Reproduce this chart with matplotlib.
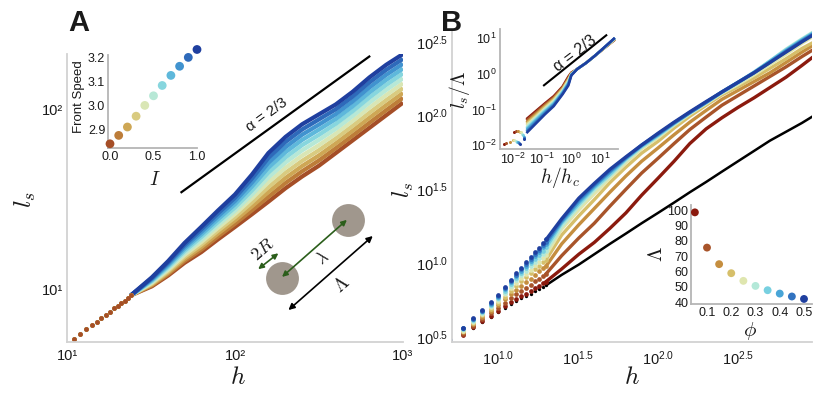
# Front roughening: l_s vs h for different I (A) and packing fraction phi (B)

import numpy as np
import matplotlib.pyplot as plt
from matplotlib.colors import LinearSegmentedColormap
from matplotlib.ticker import NullLocator

plt.rcParams['font.family'] = ['Liberation Sans', 'DejaVu Sans']
plt.rcParams['mathtext.fontset'] = 'cm'

# ---------------- Panel A ----------------
# inset: front speed vs I
I_vals = [0.0, 0.1, 0.2, 0.3, 0.4, 0.5, 0.6, 0.7, 0.8, 0.9, 1.0]
front_speed = [2.84, 2.875, 2.91, 2.955, 3.0, 3.04, 3.083, 3.125, 3.163, 3.2, 3.233]

# main: log10(l_s); at small h all curves sit on the same dots
h_a_dots = [11, 12, 13, 14, 15, 16, 17, 18, 19, 20, 21, 22, 23, 24]
log_ls_a_dots = [0.728, 0.756, 0.783, 0.803, 0.822, 0.843, 0.863, 0.88, 0.898, 0.91,
                 0.925, 0.94, 0.955, 0.97]
h_a = [24, 32, 40, 50, 63, 79, 100, 126, 158, 200, 251, 316, 398, 501, 631, 794, 1000]
log_ls_a = [
    [0.97, 1.02, 1.08, 1.15, 1.21, 1.28, 1.35, 1.42, 1.49, 1.565, 1.63, 1.69, 1.76, 1.83, 1.90, 1.97, 2.04],
    [0.97, 1.025, 1.088, 1.161, 1.224, 1.296, 1.368, 1.442, 1.517, 1.594, 1.659, 1.719, 1.787, 1.857, 1.928, 1.998, 2.067],
    [0.97, 1.03, 1.096, 1.172, 1.238, 1.312, 1.386, 1.464, 1.544, 1.622, 1.688, 1.747, 1.814, 1.884, 1.956, 2.026, 2.094],
    [0.97, 1.035, 1.104, 1.183, 1.252, 1.328, 1.404, 1.486, 1.571, 1.651, 1.717, 1.776, 1.841, 1.911, 1.984, 2.054, 2.121],
    [0.97, 1.04, 1.112, 1.194, 1.266, 1.344, 1.422, 1.508, 1.598, 1.679, 1.746, 1.804, 1.868, 1.938, 2.012, 2.082, 2.148],
    [0.97, 1.045, 1.12, 1.205, 1.28, 1.36, 1.44, 1.53, 1.625, 1.708, 1.775, 1.833, 1.895, 1.965, 2.04, 2.11, 2.175],
    [0.97, 1.05, 1.128, 1.216, 1.294, 1.376, 1.458, 1.552, 1.652, 1.736, 1.804, 1.861, 1.922, 1.992, 2.068, 2.138, 2.202],
    [0.97, 1.055, 1.136, 1.227, 1.308, 1.392, 1.476, 1.574, 1.679, 1.765, 1.833, 1.89, 1.949, 2.019, 2.096, 2.166, 2.229],
    [0.97, 1.06, 1.144, 1.238, 1.322, 1.408, 1.494, 1.596, 1.706, 1.793, 1.862, 1.918, 1.976, 2.046, 2.124, 2.194, 2.256],
    [0.97, 1.065, 1.152, 1.249, 1.336, 1.424, 1.512, 1.618, 1.733, 1.822, 1.891, 1.947, 2.003, 2.073, 2.152, 2.222, 2.283],
    [0.97, 1.07, 1.16, 1.26, 1.35, 1.44, 1.53, 1.64, 1.76, 1.85, 1.92, 1.975, 2.03, 2.10, 2.18, 2.25, 2.31],
]
# alpha = 2/3 guide line
h_guide_a = [48, 630]
ls_guide_a = [34.9, 197.7]

# ---------------- Panel B ----------------
# inset: Lambda vs phi
phi = [0.05, 0.1, 0.15, 0.2, 0.25, 0.3, 0.35, 0.4, 0.45, 0.5]
Lam = [98.5, 75.5, 64.7, 58.8, 53.8, 50.5, 47.7, 45.5, 43.6, 42.0]

# main: log10(l_s); first 16 h values are drawn as dots
h_b = [5, 6, 7, 8, 9, 10, 11, 12, 13, 14, 15, 16, 17, 18, 19, 20,
       25, 32, 40, 50, 63, 79, 100, 126, 158, 200, 251, 316, 398, 501, 631, 794, 912]
log_ls_b_black = [0.45, 0.51, 0.56, 0.60, 0.635, 0.665, 0.695, 0.72, 0.74, 0.76, 0.775, 0.79, 0.81, 0.825, 0.84, 0.85,
                  0.92, 0.99, 1.06, 1.13, 1.20, 1.27, 1.34, 1.41, 1.48, 1.55, 1.62, 1.69, 1.76, 1.83, 1.89, 1.95, 1.99]
log_ls_b = [
    [0.45, 0.51, 0.565, 0.606, 0.643, 0.675, 0.706, 0.733, 0.755, 0.777, 0.793, 0.81, 0.831, 0.847, 0.864, 0.875,
     0.96, 1.06, 1.14, 1.235, 1.34, 1.46, 1.575, 1.69, 1.81, 1.91, 1.985, 2.055, 2.12, 2.19, 2.26, 2.34, 2.39],
    [0.46, 0.52, 0.576, 0.62, 0.66, 0.695, 0.73, 0.761, 0.788, 0.813, 0.833, 0.853, 0.876, 0.895, 0.914, 0.928,
     1.05, 1.17, 1.27, 1.385, 1.50, 1.61, 1.71, 1.81, 1.905, 1.99, 2.07, 2.135, 2.20, 2.265, 2.33, 2.40, 2.44],
    [0.46, 0.53, 0.587, 0.634, 0.677, 0.715, 0.754, 0.789, 0.82, 0.848, 0.872, 0.895, 0.921, 0.943, 0.964, 0.98,
     1.13, 1.26, 1.37, 1.48, 1.59, 1.69, 1.78, 1.87, 1.955, 2.035, 2.11, 2.17, 2.23, 2.29, 2.36, 2.43, 2.47],
    [0.47, 0.54, 0.596, 0.645, 0.691, 0.732, 0.773, 0.812, 0.846, 0.878, 0.904, 0.93, 0.958, 0.982, 1.005, 1.024,
     1.19, 1.32, 1.43, 1.545, 1.65, 1.745, 1.825, 1.915, 1.995, 2.07, 2.14, 2.195, 2.255, 2.32, 2.385, 2.455, 2.49],
    [0.47, 0.54, 0.603, 0.653, 0.701, 0.744, 0.787, 0.829, 0.865, 0.899, 0.927, 0.955, 0.985, 1.01, 1.035, 1.055,
     1.23, 1.36, 1.47, 1.575, 1.68, 1.775, 1.85, 1.935, 2.01, 2.08, 2.15, 2.21, 2.275, 2.345, 2.415, 2.49, 2.53],
    [0.47, 0.55, 0.609, 0.66, 0.71, 0.755, 0.80, 0.844, 0.883, 0.918, 0.948, 0.978, 1.009, 1.035, 1.061, 1.083,
     1.25, 1.385, 1.495, 1.59, 1.695, 1.785, 1.86, 1.94, 2.015, 2.085, 2.155, 2.22, 2.29, 2.37, 2.45, 2.52, 2.56],
    [0.47, 0.55, 0.614, 0.666, 0.718, 0.765, 0.811, 0.857, 0.898, 0.934, 0.966, 0.998, 1.03, 1.057, 1.085, 1.107,
     1.27, 1.40, 1.51, 1.60, 1.705, 1.79, 1.865, 1.945, 2.02, 2.09, 2.16, 2.225, 2.295, 2.37, 2.445, 2.515, 2.555],
    [0.48, 0.56, 0.619, 0.672, 0.725, 0.773, 0.821, 0.869, 0.911, 0.949, 0.982, 1.015, 1.049, 1.077, 1.106, 1.129,
     1.28, 1.415, 1.52, 1.615, 1.71, 1.795, 1.87, 1.95, 2.02, 2.09, 2.16, 2.225, 2.29, 2.365, 2.44, 2.51, 2.55],
    [0.48, 0.56, 0.622, 0.676, 0.73, 0.779, 0.828, 0.877, 0.921, 0.96, 0.994, 1.028, 1.062, 1.091, 1.12, 1.145,
     1.29, 1.43, 1.53, 1.625, 1.715, 1.80, 1.875, 1.95, 2.02, 2.09, 2.16, 2.225, 2.29, 2.36, 2.435, 2.505, 2.545],
    [0.48, 0.56, 0.625, 0.68, 0.735, 0.785, 0.835, 0.885, 0.93, 0.97, 1.005, 1.04, 1.075, 1.105, 1.135, 1.16,
     1.30, 1.44, 1.54, 1.635, 1.72, 1.80, 1.88, 1.955, 2.025, 2.095, 2.16, 2.225, 2.29, 2.36, 2.43, 2.50, 2.54],
]
N_DOTS = 16

# top inset: collapse, log10(h/h_c) and log10(l_s/Lambda)
lead_x = [[-2.29, -1.95], [-2.22, -1.88], [-2.1, -1.8], [-2.0, -1.75], [-1.95, -1.7],
          [-1.9, -1.68], [-1.85, -1.65], [-1.8, -1.62], [-1.78, -1.6], [-1.75, -1.6]]
lead_y = [[-1.98, -1.62], [-1.95, -1.6], [-1.9, -1.6], [-1.85, -1.62], [-1.86, -1.64],
          [-1.88, -1.68], [-1.9, -1.72], [-1.92, -1.76], [-1.95, -1.8], [-1.98, -1.84]]
log_hc = [-1.5, -1.2, -0.9, -0.6, -0.3, -0.1, 0.0, 0.2, 0.5, 0.8, 1.1, 1.45]
log_ratio = [
    [-1.25, -1.04, -0.83, -0.63, -0.36, -0.08, 0.03, 0.13, 0.30, 0.50, 0.70, 0.93],
    [-1.29, -1.08, -0.86, -0.66, -0.38, -0.11, 0.02, 0.13, 0.30, 0.50, 0.70, 0.94],
    [-1.34, -1.12, -0.90, -0.69, -0.41, -0.14, 0.01, 0.13, 0.30, 0.50, 0.70, 0.94],
    [-1.38, -1.16, -0.93, -0.72, -0.43, -0.16, 0.00, 0.13, 0.30, 0.50, 0.71, 0.95],
    [-1.42, -1.20, -0.97, -0.75, -0.46, -0.19, -0.01, 0.13, 0.30, 0.50, 0.71, 0.95],
    [-1.47, -1.23, -1.00, -0.79, -0.48, -0.22, -0.01, 0.13, 0.30, 0.50, 0.71, 0.96],
    [-1.51, -1.27, -1.04, -0.82, -0.51, -0.25, -0.02, 0.13, 0.30, 0.50, 0.71, 0.97],
    [-1.55, -1.31, -1.07, -0.85, -0.53, -0.27, -0.03, 0.13, 0.30, 0.50, 0.72, 0.97],
    [-1.60, -1.35, -1.11, -0.88, -0.56, -0.30, -0.04, 0.13, 0.30, 0.50, 0.72, 0.98],
    [-1.64, -1.39, -1.14, -0.91, -0.58, -0.33, -0.05, 0.13, 0.30, 0.50, 0.72, 0.98],
]
hc_guide = [0.117, 15.5]
ratio_guide = [0.473, 11.9]

# ---------------- styling ----------------
W, H = 814, 403
cmap = LinearSegmentedColormap.from_list('rust_blue', [
    '#8b1a0e', '#a8552a', '#c68f40', '#d6bf6a', '#dfe6b0',
    '#b4e8d8', '#78d0e0', '#4aa6d8', '#3274c0', '#1f3f9f'])
cols_a = [cmap(0.1 + 0.9 * i) for i in I_vals]
cols_b = [cmap(k / 9) for k in range(10)]
TXT = '#1a1a1a'


def rect(x0, y0, x1, y1):
    # pixel box -> figure fraction
    return [x0 / W, 1 - y1 / H, (x1 - x0) / W, (y1 - y0) / H]


def ftext(x, y, s, **kw):
    fig.text(x / W, 1 - y / H, s, ha='center', va='center', color=TXT, **kw)


def pow10(e):
    return r'$\mathregular{10^{%s}}$' % e


def clean(ax, spine_col, lsize):
    for s in ['top', 'right']:
        ax.spines[s].set_visible(False)
    for s in ['left', 'bottom']:
        ax.spines[s].set_color(spine_col)
        ax.spines[s].set_linewidth(1.3)
    ax.tick_params(length=0, labelsize=lsize, colors=TXT, pad=2)
    ax.patch.set_alpha(0)


fig = plt.figure(figsize=(W / 100, H / 100), dpi=100)

# ---- A main ----
axA = fig.add_axes(rect(67, 54, 403, 342))
for k in range(len(I_vals)):
    axA.plot(h_a, 10 ** np.array(log_ls_a[k]), '-', lw=3.0, color=cols_a[k], solid_capstyle='butt')
for k in reversed(range(len(I_vals))):
    axA.plot(h_a_dots, 10 ** np.array(log_ls_a_dots), 'o', ms=3.3, mew=0, color=cols_a[k])
axA.plot(h_guide_a, ls_guide_a, color='k', lw=1.6)
axA.set_xscale('log')
axA.set_yscale('log')
axA.set_xlim(10, 1000)
axA.set_ylim(10 ** 0.711, 10 ** 2.31)
axA.xaxis.set_minor_locator(NullLocator())
axA.yaxis.set_minor_locator(NullLocator())
axA.set_xticks([10, 100, 1000], ['10\u00b9', '10\u00b2', '10\u00b3'])
axA.set_yticks([10, 100], ['10\u00b9', '10\u00b2'])
clean(axA, '#d2d2d2', 10.5)
axA.tick_params(axis='y', pad=3)
axA.tick_params(axis='x', pad=5)
axA.text(0.594, 0.788, '\u03b1 = 2/3', transform=axA.transAxes, rotation=36,
         ha='center', va='center', fontsize=11, color=TXT)

# sketch of two obstacles
axA.scatter([0.640, 0.836], [0.222, 0.424], s=560, color='#a0978d', lw=0,
            transform=axA.transAxes, zorder=3)
green = '#2b5e1b'
arrow_kw = dict(xycoords='axes fraction', textcoords='axes fraction')
axA.annotate('', xy=(0.833, 0.424), xytext=(0.640, 0.226), zorder=4,
             arrowprops=dict(arrowstyle='<|-|>', color=green, lw=1.2,
                             mutation_scale=8, shrinkA=0, shrinkB=0), **arrow_kw)
axA.annotate('', xy=(0.629, 0.308), xytext=(0.569, 0.253), zorder=4,
             arrowprops=dict(arrowstyle='<|-|>', color=green, lw=1.2,
                             mutation_scale=8, shrinkA=0, shrinkB=0), **arrow_kw)
axA.annotate('', xy=(0.910, 0.368), xytext=(0.659, 0.111), zorder=4,
             arrowprops=dict(arrowstyle='<|-|>', color='k', lw=1.2,
                             mutation_scale=9, shrinkA=0, shrinkB=0), **arrow_kw)
axA.text(0.759, 0.292, r'$\lambda$', transform=axA.transAxes, rotation=41,
         ha='center', va='center', fontsize=12, color=TXT)
axA.text(0.583, 0.318, r'$2R$', transform=axA.transAxes, rotation=41,
         ha='center', va='center', fontsize=13, color=TXT)
axA.text(0.818, 0.198, r'$\Lambda$', transform=axA.transAxes, rotation=41,
         ha='center', va='center', fontsize=14, color=TXT)

# ---- A inset ----
axAi = fig.add_axes(rect(108, 55, 197, 148))
axAi.scatter(I_vals, front_speed, s=40, c=cols_a, lw=0, clip_on=False, zorder=3)
axAi.set_xlim(-0.023, 1.0)
axAi.set_ylim(2.8225, 3.21)
axAi.set_xticks([0.0, 0.5, 1.0], ['0.0', '0.5', '1.0'])
axAi.set_yticks([2.9, 3.0, 3.1, 3.2], ['2.9', '3.0', '3.1', '3.2'])
clean(axAi, '#b5b5b5', 9)

# ---- B main ----
axB = fig.add_axes(rect(452, 30, 812, 342))
hb = np.array(h_b)
yb = 10 ** np.array(log_ls_b_black)
axB.plot(hb[:N_DOTS], yb[:N_DOTS], 'o', ms=2.4, mew=0, color='k')
axB.plot(hb[N_DOTS - 1:], yb[N_DOTS - 1:], '-', lw=1.8, color='k')
for k in range(len(phi)):
    y = 10 ** np.array(log_ls_b[k])
    axB.plot(hb[:N_DOTS], y[:N_DOTS], 'o', ms=3.4, mew=0, color=cols_b[k])
    axB.plot(hb[N_DOTS - 1:], y[N_DOTS - 1:], '-', lw=2.4, color=cols_b[k])
axB.set_xscale('log')
axB.set_yscale('log')
axB.set_xlim(10 ** 0.7125, 10 ** 2.9625)
axB.set_ylim(10 ** 0.465, 10 ** 2.58)
axB.xaxis.set_minor_locator(NullLocator())
axB.yaxis.set_minor_locator(NullLocator())
bx = ['1.0', '1.5', '2.0', '2.5']
by = ['0.5', '1.0', '1.5', '2.0', '2.5']
axB.set_xticks([10 ** float(e) for e in bx], [pow10(e) for e in bx])
axB.set_yticks([10 ** float(e) for e in by], [pow10(e) for e in by])
clean(axB, '#d2d2d2', 10.5)
axB.tick_params(axis='y', pad=3)
axB.tick_params(axis='x', pad=5)

# ---- B top inset ----
axBt = fig.add_axes(rect(499.7, 28.7, 618, 148.7))
for k in range(len(phi)):
    axBt.plot(10 ** np.array(lead_x[k]), 10 ** np.array(lead_y[k]), 'o', ms=2.2, mew=0, color=cols_b[k])
    axBt.plot(10 ** np.array(log_hc), 10 ** np.array(log_ratio[k]), '-', lw=1.8, color=cols_b[k])
axBt.plot(hc_guide, ratio_guide, color='k', lw=1.5)
axBt.set_xscale('log')
axBt.set_yscale('log')
axBt.set_xlim(10 ** -2.44, 10 ** 1.59)
axBt.set_ylim(10 ** -2.1, 10 ** 1.26)
axBt.xaxis.set_minor_locator(NullLocator())
axBt.yaxis.set_minor_locator(NullLocator())
dec = ['-2', '-1', '0', '1']
axBt.set_xticks([10 ** float(e) for e in dec], [pow10(e) for e in dec])
axBt.set_yticks([10 ** float(e) for e in dec], [pow10(e) for e in dec])
clean(axBt, '#b5b5b5', 9)
axBt.text(0.636, 0.791, '\u03b1 = 2/3', transform=axBt.transAxes, rotation=37,
          ha='center', va='center', fontsize=11.5, color=TXT)

# ---- B bottom inset ----
axBl = fig.add_axes(rect(691, 205, 812, 304))
axBl.scatter(phi, Lam, s=32, c=cols_b, lw=0, clip_on=False, zorder=3)
axBl.set_xlim(0.034, 0.533)
axBl.set_ylim(38.7, 103.3)
axBl.set_xticks([0.1, 0.2, 0.3, 0.4, 0.5], ['0.1', '0.2', '0.3', '0.4', '0.5'])
axBl.set_yticks([40, 50, 60, 70, 80, 90, 100])
clean(axBl, '#b5b5b5', 9)

# ---- labels ----
ftext(25, 200, r'$l_s$', fontsize=18, rotation=90)
ftext(238, 377, r'$h$', fontsize=18)
ftext(403, 190, r'$l_s$', fontsize=17, rotation=90)
ftext(632, 377, r'$h$', fontsize=18)
ftext(79, 97, 'Front Speed', fontsize=9.5, rotation=90)
ftext(155, 180, r'$I$', fontsize=14)
ftext(460, 90, r'$l_s/\Lambda$', fontsize=14, rotation=90)
ftext(560, 178, r'$h/h_c$', fontsize=14)
ftext(657, 254, r'$\Lambda$', fontsize=15, rotation=90)
ftext(750, 331, r'$\phi$', fontsize=15)
ftext(79, 23, 'A', fontsize=21, fontweight='bold')
ftext(452, 23, 'B', fontsize=21, fontweight='bold')

fig.savefig('out.png', dpi=100)
